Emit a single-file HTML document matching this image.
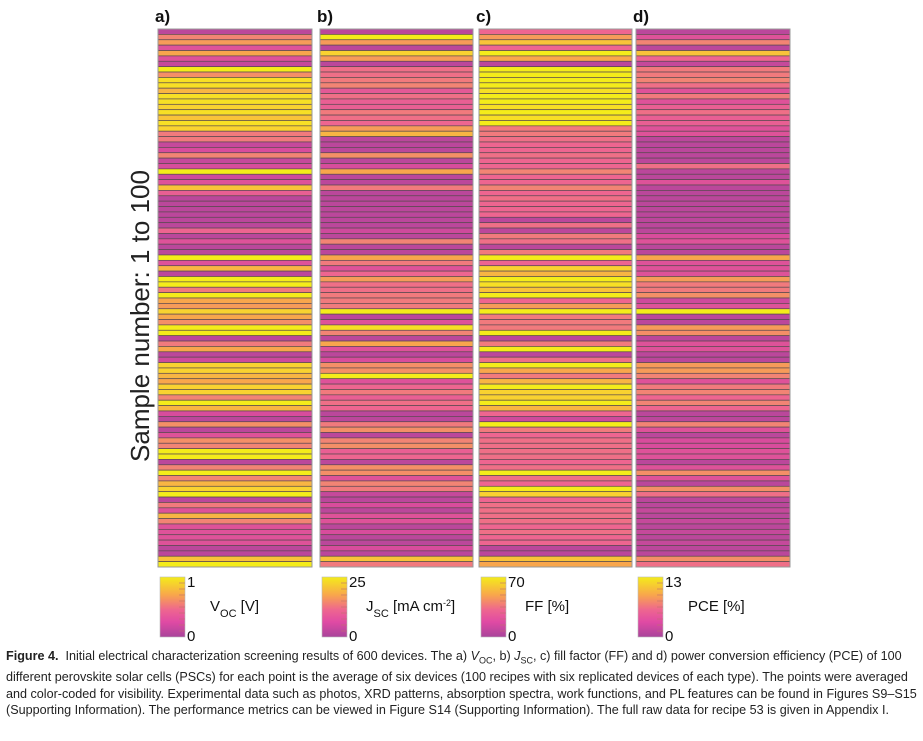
<!DOCTYPE html>
<html><head><meta charset="utf-8">
<style>
body{margin:0;background:#fff;width:923px;height:741px;overflow:hidden;font-family:"Liberation Sans",sans-serif;}
#cap{position:absolute;left:6px;top:648px;width:912px;font-size:12.6px;line-height:16.5px;color:#222;}
</style></head><body>
<svg id="chart" width="923" height="645" style="position:absolute;left:0;top:0" xmlns="http://www.w3.org/2000/svg">
<defs><linearGradient id="cb" x1="0" y1="0" x2="0" y2="1">
<stop offset="0" stop-color="#f4ec1a"/><stop offset="0.3" stop-color="#f8a64c"/><stop offset="0.55" stop-color="#ee6590"/><stop offset="0.75" stop-color="#e04aa4"/><stop offset="1" stop-color="#a8449a"/></linearGradient></defs>
<text transform="translate(149,316) rotate(-90)" text-anchor="middle" font-size="26" fill="#222">Sample number: 1 to 100</text>
<g id="plots"></g>
</svg>
<div id="cap"><b>Figure 4.</b>&nbsp; Initial electrical characterization screening results of 600 devices. The a) <i>V</i><sub style="font-size:9px">OC</sub>, b) <i>J</i><sub style="font-size:9px">SC</sub>, c) fill factor (FF) and d) power conversion efficiency (PCE) of 100 different perovskite solar cells (PSCs) for each point is the average of six devices (100 recipes with six replicated devices of each type). The points were averaged and color-coded for visibility. Experimental data such as photos, XRD patterns, absorption spectra, work functions, and PL features can be found in Figures S9–S15 (Supporting Information). The performance metrics can be viewed in Figure S14 (Supporting Information). The full raw data for recipe 53 is given in Appendix I.</div>
<script>
const panelLabels=["a)","b)","c)","d)"];
const maxLabels=["1","25","70","13"];
const unitLabels=["V<tspan baseline-shift='sub' font-size='11'>OC</tspan> [V]","J<tspan baseline-shift='sub' font-size='11'>SC</tspan> [mA cm<tspan baseline-shift='super' font-size='9'>-2</tspan>]","FF [%]","PCE [%]"];
const vocVals=[0.1,0.6,0.7,0.3,0.75,0.3,0.15,1,0.65,0.95,0.95,0.8,0.95,0.95,0.9,0.95,0.85,0.95,0.9,0.55,0.55,0.15,0.25,0.6,0.15,
0.25,1,0.2,0.3,0.85,0.4,0.1,0.1,0.1,0.1,0.1,0.1,0.45,0.1,0.3,0.1,0.1,1,0.3,0.8,0.1,1,1,0.55,1,
0.75,0.7,0.9,0.75,0.65,1,1,0.1,0.55,0.75,0.1,0.2,0.9,0.9,0.8,0.75,0.9,0.9,0.6,1,0.8,0.25,0.1,0.65,0.1,
0.3,0.65,0.6,1,1,0.1,0.6,1,0.6,0.8,0.9,1,0.1,0.55,0.3,0.8,0.6,0.3,0.3,0.3,0.3,0.1,0.1,0.85,1];
const jscVals=[0.1,1,0.7,0.1,0.9,0.7,0.1,0.5,0.5,0.55,0.6,0.35,0.5,0.4,0.4,0.55,0.5,0.45,0.7,0.8,0.1,0.1,0.1,0.65,0.1,
0.25,0.75,0.1,0.1,0.55,0.1,0.1,0.1,0.1,0.1,0.1,0.1,0.2,0.1,0.6,0.1,0.1,0.75,0.55,0.3,0.45,0.7,0.5,0.5,0.55,
0.55,0.55,1,0.1,0.3,0.95,0.6,0.1,0.75,0.3,0.1,0.25,0.65,0.65,1,0.3,0.45,0.55,0.4,0.5,0.45,0.1,0.1,0.55,0.65,
0.1,0.6,0.65,0.4,0.45,0.1,0.65,0.65,0.3,0.6,0.55,0.15,0.1,0.25,0.1,0.3,0.3,0.1,0.25,0.1,0.1,0.25,0.1,0.85,0.55];
const ffVals=[0.45,0.7,0.85,0.45,1,0.75,0.1,1,1,1,1,0.95,1,1,0.95,1,0.95,1,0.55,0.55,0.5,0.45,0.45,0.5,0.45,
0.45,0.6,0.45,0.45,0.6,0.45,0.5,0.45,0.45,0.45,0.1,0.5,0.1,0.55,0.5,0.1,0.55,1,0.45,0.9,0.8,1,0.95,0.85,1,
0.45,0.7,1,0.55,0.55,0.55,1,0.1,0.55,1,0.1,0.5,1,0.75,0.55,0.8,1,0.9,0.9,1,0.8,0.45,0.2,1,0.55,
0.45,0.5,0.5,0.5,0.5,0.45,0.5,1,0.5,0.45,1,0.9,0.45,0.5,0.5,0.5,0.5,0.45,0.5,0.45,0.45,0.1,0.1,0.85,0.75];
const pceVals=[0.1,0.3,0.6,0.1,0.85,0.45,0.15,0.55,0.55,0.6,0.5,0.3,0.55,0.3,0.4,0.5,0.4,0.4,0.3,0.3,0.1,0.1,0.1,0.1,0.1,
0.5,0.1,0.1,0.3,0.1,0.1,0.1,0.1,0.1,0.1,0.1,0.1,0.1,0.25,0.3,0.1,0.1,0.75,0.3,0.3,0.3,0.7,0.55,0.55,0.65,
0.2,0.3,1,0.1,0.1,0.7,0.65,0.1,0.3,0.3,0.1,0.1,0.7,0.7,0.6,0.3,0.55,0.6,0.45,0.6,0.45,0.1,0.1,0.6,0.3,
0.1,0.25,0.25,0.3,0.3,0.1,0.3,0.65,0.3,0.1,0.65,0.5,0.1,0.1,0.15,0.1,0.15,0.1,0.15,0.1,0.15,0.1,0.1,0.65,0.5];
const series=[vocVals,jscVals,ffVals,pceVals];
const names=["voc","jsc","ff","pce"];
const panelX=[158,320,479,636], panelW=[154,153,153,154];
const top0=29, plotH=538;
const stops=[[0,[168,68,154]],[0.25,[216,76,156]],[0.45,[238,101,144]],[0.6,[242,132,116]],[0.75,[248,166,76]],[0.9,[249,210,48]],[1,[244,236,26]]];
function cmap(v){v=Math.max(0,Math.min(1,v));for(let i=1;i<stops.length;i++){if(v<=stops[i][0]){const a=stops[i-1],b=stops[i];const t=(v-a[0])/(b[0]-a[0]);const c=a[1].map((x,k)=>Math.round(x+(b[1][k]-x)*t));return`rgb(${c.join(',')})`;}}return"rgb(244,236,26)";}
const yScale=i=>top0+i*plotH/100;
const NS="http://www.w3.org/2000/svg";
const g=document.getElementById('plots');
function mk(tag,attrs,parent){const e=document.createElementNS(NS,tag);for(const k in attrs)e.setAttribute(k,attrs[k]);(parent||g).appendChild(e);return e;}
series.forEach((vals,p)=>{
  const pg=mk('g',{});
  
  
  const lab=mk('text',{x:panelX[p]-3,y:22,'font-size':17,'font-weight':'bold',fill:'#111'},pg);lab.textContent=panelLabels[p];
  
  
  vals.forEach((v,i)=>{
    const r=mk('rect',{x:panelX[p],y:yScale(i),width:panelW[p],height:plotH/100,fill:cmap(v),stroke:'#5a4a50','stroke-width':0.7},pg);
    
    
  });
  mk('rect',{x:panelX[p],y:top0,width:panelW[p],height:plotH,fill:'none',stroke:'#999','stroke-width':1},pg);
  const cx=panelX[p]+2, cy=577;
  const cbg=mk('g',{});
  
  
  mk('rect',{x:cx,y:cy,width:25,height:60,fill:'url(#cb)',stroke:'#bbb','stroke-width':0.6},cbg);
  for(let k=1;k<10;k++){const ty=cy+k*6;mk('line',{x1:cx+19,x2:cx+25,y1:ty,y2:ty,stroke:'#c07070','stroke-width':0.6},cbg);}
  const t1=mk('text',{x:cx+27,y:cy+10,'font-size':15,fill:'#111'},cbg);t1.textContent=maxLabels[p];
  const t0=mk('text',{x:cx+27,y:cy+64,'font-size':15,fill:'#111'},cbg);t0.textContent='0';
  const tu=mk('text',{x:[210,366,525,688][p],y:611,'font-size':15,fill:'#111'},cbg);tu.innerHTML=unitLabels[p];
});
</script>
</body></html>
